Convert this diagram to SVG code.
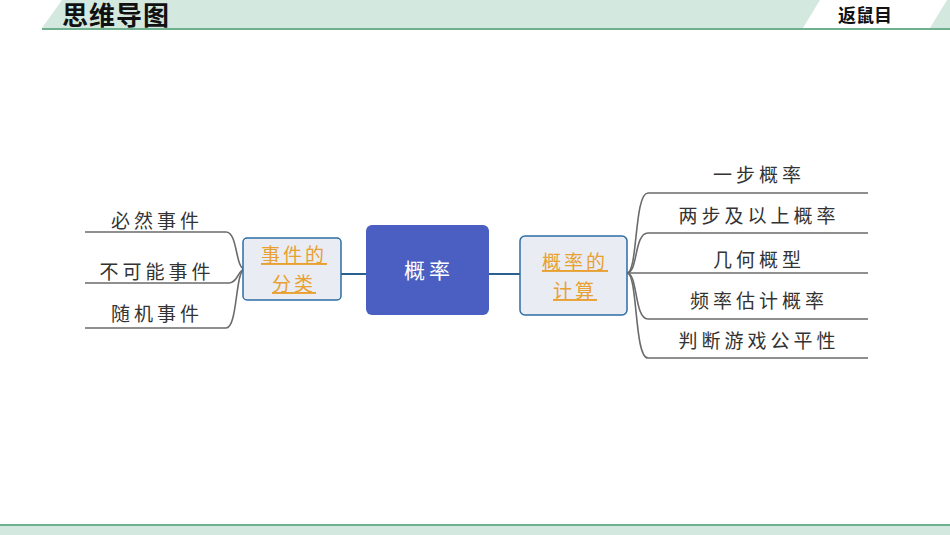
<svg xmlns="http://www.w3.org/2000/svg" width="950" height="535" viewBox="0 0 950 535">
<style>
.lbl{font-family:"Noto Sans CJK SC","Noto Sans",sans-serif;font-size:19px;fill:#333;letter-spacing:4px;text-anchor:middle}
.sub{font-family:"Noto Sans CJK SC","Noto Sans",sans-serif;font-size:19px;fill:#e8a030;letter-spacing:3px;text-anchor:middle;text-decoration:underline}
.br{fill:none;stroke:#6b6b6b;stroke-width:1.6}
.ln{fill:none;stroke:#2b5f8f;stroke-width:2}
.box{fill:#e9ecf3;stroke:#2e6da4;stroke-width:1.5}
</style>
<rect width="950" height="535" fill="#fff"/>
<g id="header">
<polygon points="62,0 820,0 803,28 42,28" fill="#d3e8df"/>
<polygon points="947,0 950,0 950,28 930,28" fill="#d3e8df"/>
<rect x="42" y="28" width="908" height="2" fill="#6fb08f"/>
<text x="62" y="25" font-family="'Noto Sans CJK SC',sans-serif" font-size="26" font-weight="bold" fill="#111" letter-spacing="1">思维导图</text>
<text x="838" y="22" font-family="'Noto Sans CJK SC',sans-serif" font-size="18" font-weight="bold" fill="#111">返鼠目</text>
</g>
<g id="footer">
<rect x="0" y="526" width="950" height="9" fill="#d3e8df"/>
<rect x="0" y="524" width="950" height="2" fill="#6fb08f"/>
</g>
<g id="connectors">
<line class="ln" x1="341" y1="274" x2="366" y2="274"/>
<line class="ln" x1="489" y1="274" x2="520" y2="274"/>
<path class="br" d="M85,232 H226 C238,232 235,269 245,269"/>
<path class="br" d="M85,283 H229 C238,283 238,269 245,269"/>
<path class="br" d="M85,328 H226 C238,328 235,269 245,269"/>
<path class="br" d="M627,273 C638,273 634,193 648,193 H868"/>
<path class="br" d="M627,273 C638,273 634,233 648,233 H868"/>
<path class="br" d="M627,273 H868"/>
<path class="br" d="M627,273 C638,273 634,319 648,319 H868"/>
<path class="br" d="M627,273 C638,273 634,358 648,358 H868"/>
</g>
<g id="center">
<rect x="366" y="225" width="123" height="90" rx="6" fill="#4a5fc1"/>
<text x="429" y="278" class="lbl" style="fill:#fff;font-size:21px">概率</text>
</g>
<g id="left-node">
<rect class="box" x="243" y="238" width="98" height="62" rx="4"/>
<text class="sub" x="294" y="262">事件的</text>
<text class="sub" x="294" y="291">分类</text>
</g>
<g id="right-node">
<rect class="box" x="520" y="236" width="107" height="79" rx="5"/>
<text class="sub" x="575" y="269">概率的</text>
<text class="sub" x="575" y="298">计算</text>
</g>
<g id="l1"><text class="lbl" x="157" y="228">必然事件</text></g>
<g id="l2"><text class="lbl" x="157" y="279">不可能事件</text></g>
<g id="l3"><text class="lbl" x="157" y="321">随机事件</text></g>
<g id="r1"><text class="lbl" x="759" y="182">一步概率</text></g>
<g id="r2"><text class="lbl" x="759" y="223">两步及以上概率</text></g>
<g id="r3"><text class="lbl" x="759" y="267">几何概型</text></g>
<g id="r4"><text class="lbl" x="759" y="308">频率估计概率</text></g>
<g id="r5"><text class="lbl" x="759" y="348">判断游戏公平性</text></g>
</svg>
